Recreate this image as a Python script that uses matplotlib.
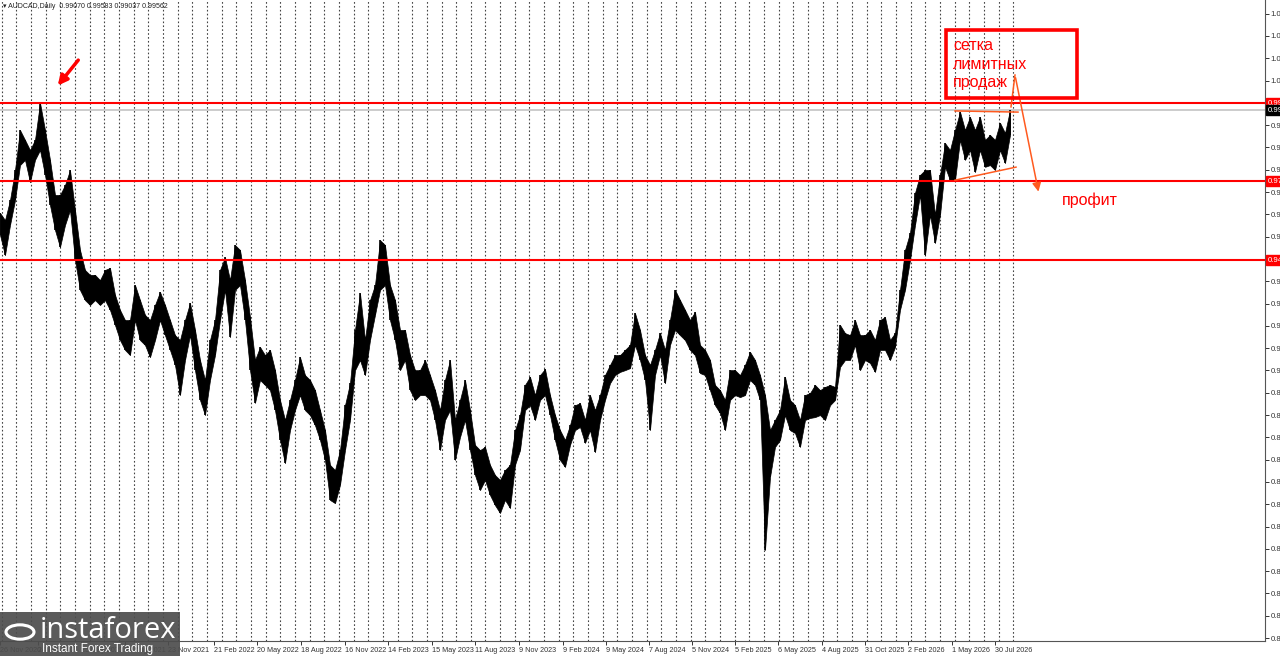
import numpy as np
import matplotlib
matplotlib.use('Agg')
import matplotlib.pyplot as plt
from matplotlib.patches import Rectangle, Circle
from matplotlib.transforms import blended_transform_factory

# AUDCAD daily: high / low of each ~1.5 week step
highs = [0.9601, 0.9576, 0.9645, 0.9749, 0.9887, 0.9853, 0.9818, 0.9853, 0.9981, 0.9887,
         0.9784, 0.9663, 0.9663, 0.9697, 0.9749, 0.9611, 0.9473, 0.9404, 0.9387, 0.9387,
         0.9369, 0.9404, 0.9411, 0.9318, 0.9266, 0.9231, 0.9231, 0.9352, 0.9300, 0.9249,
         0.9231, 0.9283, 0.9328, 0.9283, 0.9231, 0.9179, 0.9162, 0.9231, 0.9290, 0.9197,
         0.9093, 0.9024, 0.9162, 0.9231, 0.9404, 0.9448, 0.9369, 0.9490, 0.9473, 0.9369,
         0.9241, 0.9093, 0.9138, 0.9110, 0.9128, 0.9058, 0.8955, 0.8886, 0.8955, 0.9024,
         0.9103, 0.9041, 0.9024, 0.8989, 0.8920, 0.8851, 0.8731, 0.8713, 0.8782, 0.8937,
         0.9013, 0.9197, 0.9324, 0.9162, 0.9300, 0.9352, 0.9507, 0.9490, 0.9352, 0.9300,
         0.9197, 0.9197, 0.9110, 0.9058, 0.9058, 0.9093, 0.9041, 0.8989, 0.8920, 0.9024,
         0.9093, 0.8886, 0.8955, 0.9024, 0.8920, 0.8800, 0.8782, 0.8793, 0.8731, 0.8696,
         0.8679, 0.8713, 0.8731, 0.8851, 0.8903, 0.9007, 0.9035, 0.8972, 0.9041, 0.9062,
         0.8972, 0.8903, 0.8851, 0.8817, 0.8868, 0.8937, 0.8944, 0.8886, 0.8972, 0.8920,
         0.8972, 0.9041, 0.9076, 0.9110, 0.9110, 0.9128, 0.9145, 0.9255, 0.9197, 0.9110,
         0.9076, 0.9128, 0.9186, 0.9128, 0.9231, 0.9335, 0.9300, 0.9266, 0.9231, 0.9259,
         0.9145, 0.9128, 0.9093, 0.9007, 0.8989, 0.8955, 0.9058, 0.9058, 0.9041, 0.9076,
         0.9121, 0.9093, 0.9041, 0.8972, 0.8851, 0.8886, 0.8920, 0.9035, 0.8955, 0.8937,
         0.8886, 0.8972, 0.8979, 0.9007, 0.8989, 0.9000, 0.9007, 0.9000, 0.9214, 0.9186,
         0.9179, 0.9231, 0.9179, 0.9179, 0.9197, 0.9162, 0.9231, 0.9241, 0.9162, 0.9186,
         0.9335, 0.9473, 0.9532, 0.9670, 0.9732, 0.9749, 0.9749, 0.9594, 0.9732, 0.9842,
         0.9818, 0.9887, 0.9950, 0.9887, 0.9932, 0.9887, 0.9932, 0.9853, 0.9870, 0.9853,
         0.9912, 0.9877, 0.9956]
lows = [0.9525, 0.9455, 0.9559, 0.9645, 0.9766, 0.9784, 0.9707, 0.9784, 0.9818, 0.9732,
        0.9628, 0.9542, 0.9483, 0.9559, 0.9611, 0.9438, 0.9335, 0.9300, 0.9283, 0.9300,
        0.9283, 0.9300, 0.9266, 0.9214, 0.9162, 0.9128, 0.9110, 0.9231, 0.9162, 0.9145,
        0.9103, 0.9162, 0.9231, 0.9179, 0.9128, 0.9076, 0.8972, 0.9093, 0.9179, 0.9058,
        0.8955, 0.8903, 0.9024, 0.9110, 0.9231, 0.9335, 0.9172, 0.9335, 0.9352, 0.9231,
        0.9058, 0.8945, 0.9024, 0.9007, 0.8989, 0.8920, 0.8817, 0.8737, 0.8851, 0.8920,
        0.8972, 0.8920, 0.8903, 0.8868, 0.8817, 0.8748, 0.8610, 0.8599, 0.8662, 0.8782,
        0.8886, 0.9058, 0.9093, 0.9041, 0.9162, 0.9249, 0.9335, 0.9352, 0.9231, 0.9162,
        0.9058, 0.9093, 0.8989, 0.8955, 0.8972, 0.8972, 0.8955, 0.8886, 0.8782, 0.8886,
        0.8920, 0.8748, 0.8827, 0.8886, 0.8782, 0.8696, 0.8644, 0.8679, 0.8627, 0.8592,
        0.8565, 0.8610, 0.8582, 0.8731, 0.8782, 0.8920, 0.8937, 0.8886, 0.8955, 0.8972,
        0.8903, 0.8817, 0.8748, 0.8724, 0.8800, 0.8851, 0.8862, 0.8807, 0.8851, 0.8775,
        0.8886, 0.8955, 0.9013, 0.9041, 0.9052, 0.9058, 0.9065, 0.9145, 0.9093, 0.9024,
        0.8851, 0.9041, 0.9110, 0.9013, 0.9145, 0.9197, 0.9179, 0.9162, 0.9128, 0.9110,
        0.9048, 0.9041, 0.8989, 0.8937, 0.8910, 0.8851, 0.8955, 0.8972, 0.8965, 0.8972,
        0.9024, 0.9007, 0.8955, 0.8437, 0.8689, 0.8793, 0.8817, 0.8903, 0.8851, 0.8841,
        0.8793, 0.8886, 0.8893, 0.8896, 0.8903, 0.8886, 0.8937, 0.8955, 0.9069, 0.9093,
        0.9093, 0.9145, 0.9058, 0.9093, 0.9083, 0.9052, 0.9128, 0.9128, 0.9093, 0.9138,
        0.9266, 0.9335, 0.9438, 0.9559, 0.9663, 0.9455, 0.9594, 0.9497, 0.9594, 0.9760,
        0.9714, 0.9714, 0.9853, 0.9784, 0.9818, 0.9742, 0.9818, 0.9760, 0.9766, 0.9749,
        0.9818, 0.9773, 0.9870]

levels = [0.9980, 0.9711, 0.9438]
level_labels = ['0.99800', '0.97110', '0.94380']
last_price = 0.99562
header = 'AUDCAD,Daily  0.99070 0.99583 0.99037 0.99562'

price_ticks = [0.8133, 0.8210, 0.8287, 0.8364, 0.8441, 0.8518, 0.8595, 0.8672, 0.8749, 0.8826,
               0.8903, 0.8980, 0.9057, 0.9134, 0.9211, 0.9288, 0.9365, 0.9442, 0.9519, 0.9596,
               0.9673, 0.9750, 0.9827, 0.9904, 0.9981, 1.0058, 1.0135, 1.0212, 1.0289]

date_pos = [0, 7.6, 16.2, 25, 33.6, 42.8, 51.4, 60.2, 69, 77.6, 86.4, 95, 103.8, 112.6,
            121.2, 129.8, 138.4, 147, 155.6, 164.4, 173, 181.6, 190.4, 199]
date_labels = ['26 Nov 2020', '24 Feb 2021', '25 May 2021', '24 Aug 2021', '23 Nov 2021',
               '21 Feb 2022', '20 May 2022', '18 Aug 2022', '16 Nov 2022', '14 Feb 2023',
               '15 May 2023', '11 Aug 2023', '9 Nov 2023', '9 Feb 2024', '9 May 2024',
               '7 Aug 2024', '5 Nov 2024', '5 Feb 2025', '6 May 2025', '4 Aug 2025',
               '31 Oct 2025', '2 Feb 2026', '1 May 2026', '30 Jul 2026']

W, H = 1280, 656
fig = plt.figure(figsize=(W / 100, H / 100), dpi=100)
fig.patch.set_facecolor('white')
ax = fig.add_axes([0, 15 / H, 1265 / W, 641 / H])

x = np.arange(len(highs))
ax.set_xlim(0, 253)
ax.set_ylim(0.8123, 1.0336)

# month separators
for j in range(70):
    ax.axvline(0.34 + 2.932 * j, color='#444444', lw=0.8, ls=(0, (1.5, 2)), zorder=1)

# levels
for lv in levels:
    ax.axhline(lv, color='#ff0000', lw=1.5, zorder=4)
ax.axhline(last_price, color='#c8c8c8', lw=1.3, zorder=2)

# price
ax.fill_between(x, lows, highs, color='black', lw=0.5, zorder=3)
ax.vlines(x, lows, highs, color='black', lw=1.2, zorder=3)

# axes look
for s in ['left', 'top']:
    ax.spines[s].set_visible(False)
for s in ['right', 'bottom']:
    ax.spines[s].set_color('#555555')
ax.yaxis.tick_right()
ax.set_yticks(price_ticks)
ax.set_yticklabels(['%.5f' % v for v in price_ticks], family='Liberation Sans')
ax.set_xticks(date_pos)
ax.set_xticklabels(date_labels, ha='left', family='Liberation Sans')
ax.tick_params(axis='x', labelsize=5.2, colors='#333333', length=3, width=0.7, pad=1.5)
ax.tick_params(axis='y', labelsize=5.6, colors='#333333', length=3, width=0.7, pad=1)

tr = blended_transform_factory(ax.transAxes, ax.transData)
for lv, lb in zip(levels, level_labels):
    ax.text(1.002, lv, lb, transform=tr, fontsize=5.6, color='white', va='center', ha='left',
            family='Liberation Sans', bbox=dict(fc='#ff0000', ec='#ff0000', pad=1.0),
            zorder=6, clip_on=False)
ax.text(1.002, last_price, '0.99562', transform=tr, fontsize=5.6, color='white', va='center',
        ha='left', family='Liberation Sans', bbox=dict(fc='black', ec='black', pad=1.0),
        zorder=6, clip_on=False)

ax.text(0.002, 0.995, '\u25be ' + header, transform=ax.transAxes, fontsize=5, va='top',
        color='#222222', family=['Liberation Sans', 'DejaVu Sans'])

# notes
orange = '#ff5a1f'
ax.add_patch(Rectangle((189.2, 0.9998), 26.2, 0.0234, fill=False, ec='#ff0000', lw=2.6, zorder=6))
ax.text(190.6, 1.0205, 'сетка\nлимитных\nпродаж', fontsize=11.5, color='#ff0000',
        family='Liberation Sans', va='top', ha='left', linespacing=1.3, zorder=6)
ax.text(212.4, 0.9645, 'профит', fontsize=11.5, color='#ff0000', family='Liberation Sans',
        va='center', ha='left', zorder=6)
ax.plot([191, 203.6], [0.9953, 0.9949], color=orange, lw=1.1, zorder=5)
ax.plot([191, 203.2], [0.9714, 0.9759], color=orange, lw=1.1, zorder=5)
ax.plot([202.2, 203], [0.9967, 1.0077], color=orange, lw=1.1, zorder=5)
ax.annotate('', xy=(207.8, 0.9665), xytext=(203, 1.0077),
            arrowprops=dict(arrowstyle='-|>', color=orange, lw=1.1, mutation_scale=13), zorder=5)
ax.annotate('', xy=(11.2, 1.0033), xytext=(16, 1.0136),
            arrowprops=dict(arrowstyle='-|>', color='#ff0000', lw=2.5, mutation_scale=14), zorder=5)

# logo
fig.add_artist(Rectangle((0, 0), 180 / W, 44 / H, transform=fig.transFigure,
                         fc='#4d4d4d', ec='none', alpha=0.92, zorder=10))
fig.add_artist(Circle((20 / W, 24 / H), 14 / W, transform=fig.transFigure, fc='none',
                      ec='white', lw=2.2, zorder=11))
fig.text(40 / W, 26 / H, 'instaforex', fontsize=21, color='white', va='center', ha='left',
         family='Open Sans', zorder=11)
fig.text(42 / W, 7 / H, 'Instant Forex Trading', fontsize=8.5, color='white', va='center',
         ha='left', family='Liberation Sans', zorder=11)

fig.savefig('out.png', dpi=100)
